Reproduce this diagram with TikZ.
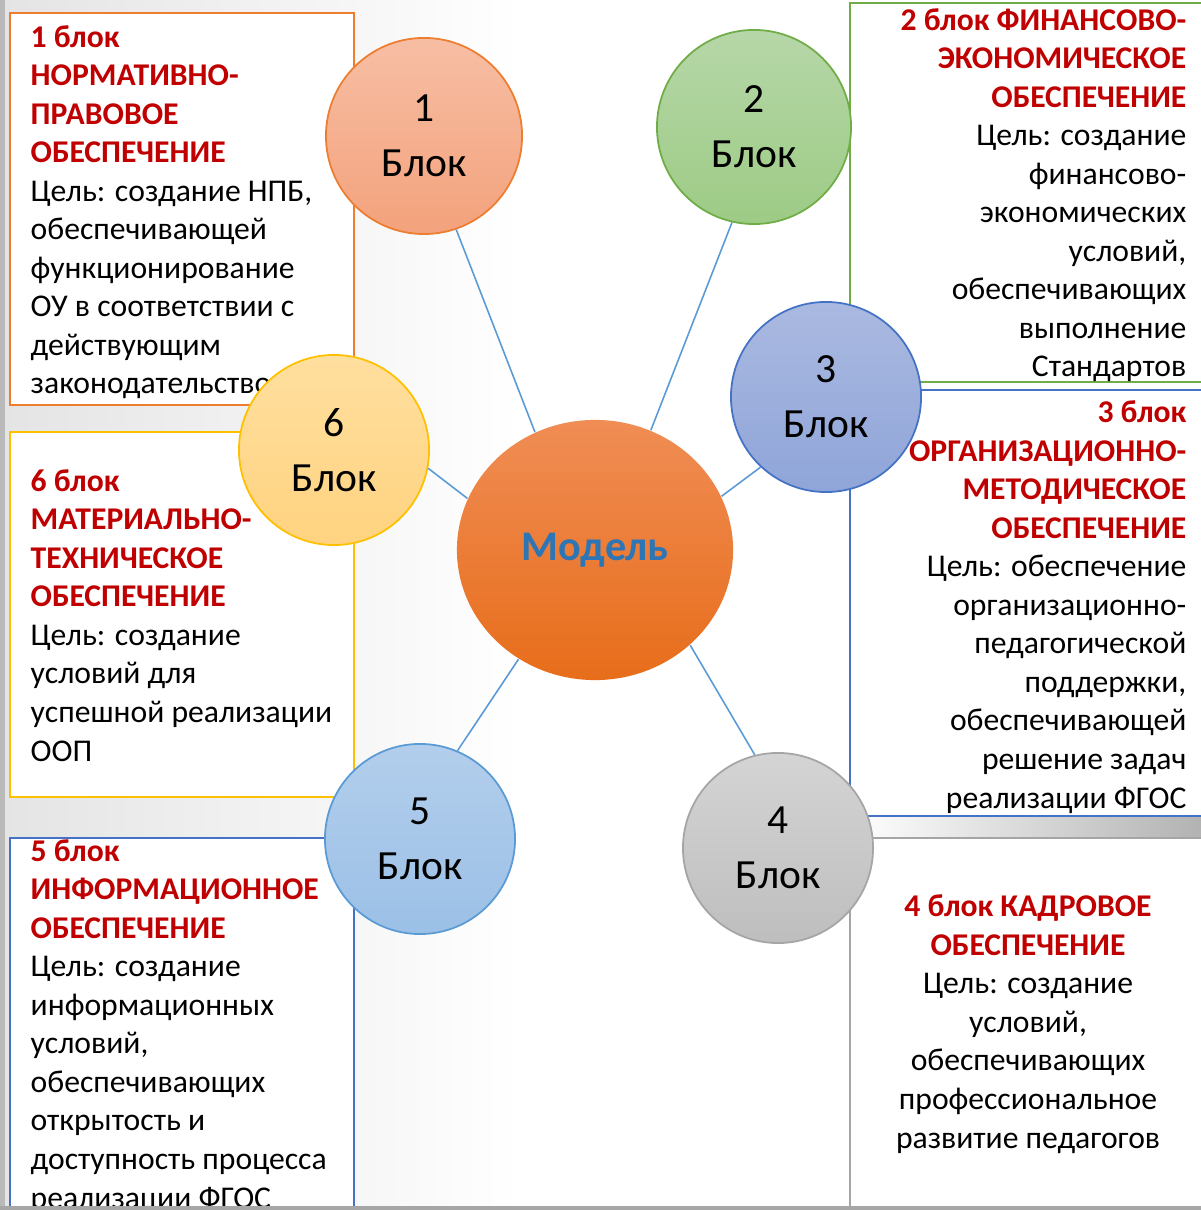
\documentclass[tikz,border=0pt]{standalone}
\usepackage{fontspec}
\setmainfont{Carlito}
\usepackage{xcolor}
\usetikzlibrary{shapes.geometric}

\definecolor{hdred}{HTML}{C00000}
\definecolor{linkblue}{HTML}{5B9BD5}
\definecolor{modeltext}{HTML}{2E75B6}
\newcommand{\hd}[1]{{\color{hdred}\bfseries #1}}

\begin{document}
\begin{tikzpicture}[x=0.01cm,y=-0.01cm,
	txt/.style={inner sep=0pt,font=\fontsize{9}{10.95}\selectfont},
	frame/.style={line width=0.8pt,fill=white},
	blok/.style={circle,draw,line width=0.5pt,inner sep=0pt,minimum size=1.9cm,
		font=\fontsize{11.8}{15.6}\selectfont,align=center},
	link/.style={draw=linkblue,line width=0.45pt}]
	\useasboundingbox (0,0) rectangle (1201,1210);
	% background
	\shade[left color={rgb,255:red,228;green,228;blue,228},right color=white] (0,0) rectangle (520,1210);
	\fill[white] (520,0) rectangle (1201,1210);
	\fill[gray!55] (0,0) rectangle (5,1210);
	\shade[left color=white,right color=gray!60] (850,816) rectangle (1201,838);
	% frames
	\draw[frame,draw={rgb,255:red,237;green,125;blue,49}] (10,13) rectangle (354,405);
	\draw[frame,draw={rgb,255:red,255;green,192;blue,0}] (10,432) rectangle (354,797);
	\draw[frame,draw={rgb,255:red,68;green,114;blue,196}] (10,838) rectangle (354,1214);
	\draw[frame,draw={rgb,255:red,112;green,173;blue,71}] (850,3) rectangle (1205,382);
	\draw[frame,draw={rgb,255:red,68;green,114;blue,196}] (850,390) rectangle (1205,816);
	\draw[frame,draw={rgb,255:red,165;green,165;blue,165}] (850,838) rectangle (1205,1214);
	% texts (anchored on the baseline of the last line)
	\node[txt,anchor=base west,align=left] (t1) at (30,394)
		{\hd{1 блок}\\ \hd{НОРМАТИВНО-}\\ \hd{ПРАВОВОЕ}\\ \hd{ОБЕСПЕЧЕНИЕ}\\
		Цель: создание НПБ,\\ обеспечивающей\\ функционирование\\
		ОУ в соответствии с\\ действующим\\ законодательством};
	\node[txt,anchor=base east,align=right] (t2) at (1187,377)
		{\hd{2 блок ФИНАНСОВО-}\\ \hd{ЭКОНОМИЧЕСКОЕ}\\ \hd{ОБЕСПЕЧЕНИЕ}\\
		Цель: создание\\ финансово-\\ экономических\\ условий,\\
		обеспечивающих\\ выполнение\\ Стандартов};
	\node[txt,anchor=base east,align=right] (t3) at (1187,808)
		{\hd{3 блок}\\ \hd{ОРГАНИЗАЦИОННО-}\\ \hd{МЕТОДИЧЕСКОЕ}\\ \hd{ОБЕСПЕЧЕНИЕ}\\
		Цель: обеспечение\\ организационно-\\ педагогической\\ поддержки,\\
		обеспечивающей\\ решение задач\\ реализации ФГОС};
	\node[txt,anchor=base,align=center] (t4) at (1028,1148)
		{\hd{4 блок КАДРОВОЕ}\\ \hd{ОБЕСПЕЧЕНИЕ}\\
		Цель: создание\\ условий,\\ обеспечивающих\\ профессиональное\\ развитие педагогов};
	\node[txt,anchor=base west,align=left] (t5) at (30,1208)
		{\hd{5 блок}\\ \hd{ИНФОРМАЦИОННОЕ}\\ \hd{ОБЕСПЕЧЕНИЕ}\\
		Цель: создание\\ информационных\\ условий,\\ обеспечивающих\\
		открытость и\\ доступность процесса\\ реализации ФГОС};
	\node[txt,anchor=base west,align=left] (t6) at (30,761)
		{\hd{6 блок}\\ \hd{МАТЕРИАЛЬНО-}\\ \hd{ТЕХНИЧЕСКОЕ}\\ \hd{ОБЕСПЕЧЕНИЕ}\\
		Цель: создание\\ условий для\\ успешной реализации\\ ООП};
	\fill[gray!70] (0,1206) rectangle (1201,1210);
	% circles
	\node[ellipse,minimum width=2.76cm,minimum height=2.6cm,inner sep=0pt,
		top color={rgb,255:red,240;green,141;blue,85},bottom color={rgb,255:red,231;green,109;blue,26},
		font=\fontsize{12}{15}\selectfont\bfseries,text=modeltext] (model) at (595,550) {Модель};
	\node[blok,minimum size=1.96cm,draw={rgb,255:red,237;green,125;blue,49},
		top color={rgb,255:red,247;green,190;blue,164},bottom color={rgb,255:red,243;green,162;blue,124}] (c1) at (424,136) {1\\Блок};
	\node[blok,minimum size=1.94cm,draw={rgb,255:red,112;green,173;blue,71},
		top color={rgb,255:red,182;green,215;blue,168},bottom color={rgb,255:red,157;green,203;blue,133}] (c2) at (754,127) {2\\Блок};
	\node[blok,draw={rgb,255:red,68;green,114;blue,196},
		top color={rgb,255:red,170;green,185;blue,224},bottom color={rgb,255:red,143;green,165;blue,217}] (c3) at (826,397) {3\\Блок};
	\node[blok,draw={rgb,255:red,165;green,165;blue,165},
		top color={rgb,255:red,212;green,212;blue,212},bottom color={rgb,255:red,190;green,190;blue,190}] (c4) at (778,848) {4\\Блок};
	\node[blok,draw={rgb,255:red,91;green,155;blue,213},
		top color={rgb,255:red,179;green,206;blue,236},bottom color={rgb,255:red,155;green,192;blue,230}] (c5) at (420,839) {5\\Блок};
	\node[blok,draw={rgb,255:red,255;green,192;blue,0},
		top color={rgb,255:red,255;green,223;blue,159},bottom color={rgb,255:red,255;green,211;blue,128}] (c6) at (334,450) {6\\Блок};
	% links
	\draw[link] (c1.289) -- (model.117);
	\draw[link] (c2.257) -- (model.65);
	\draw[link] (c3.227) -- (model.23);
	\draw[link] (c4.104) -- (model.-45);
	\draw[link] (c5.67) -- (model.235);
	\draw[link] (c6.-11) -- (model.158);
\end{tikzpicture}
\end{document}
